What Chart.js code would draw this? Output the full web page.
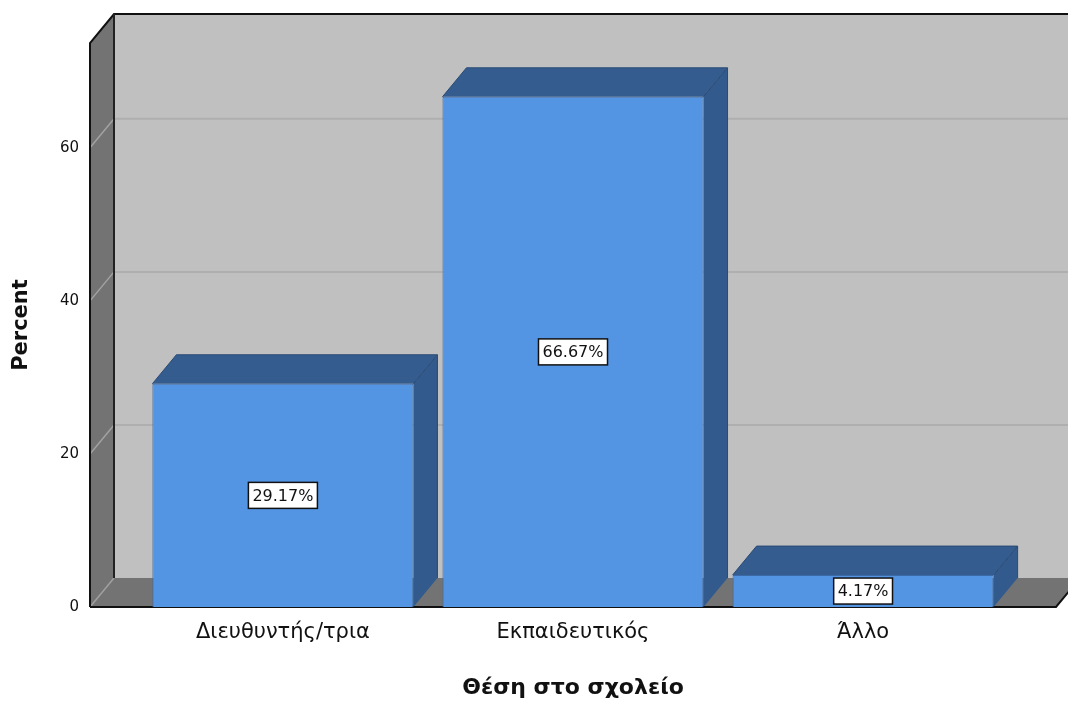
<!DOCTYPE html>
<html>
<head>
<meta charset="utf-8">
<title>Θέση στο σχολείο</title>
<script src="https://cdn.jsdelivr.net/npm/chart.js@4.4.1/dist/chart.umd.min.js"></script>
<style>
  html, body { margin: 0; padding: 0; background: #fff; }
</style>
</head>
<body>
<canvas id="positionChart" width="1068" height="702"></canvas>
<script>
const categories = ['Διευθυντής/τρια', 'Εκπαιδευτικός', 'Άλλο'];
const percents = [29.17, 66.67, 4.17];
const yTicks = [0, 20, 40, 60];

const FONT = '"DejaVu Sans", Verdana, sans-serif';
const TEXT = '#111';
// depth of the box and of the bars (pixels, going back and up)
const DX = 24, DY = -29;

function poly(ctx, pts, fill) {
    ctx.beginPath();
    ctx.moveTo(pts[0][0], pts[0][1]);
    pts.slice(1).forEach(p => ctx.lineTo(p[0], p[1]));
    ctx.closePath();
    ctx.fillStyle = fill;
    ctx.fill();
}

function line(ctx, pts, color, width) {
    ctx.beginPath();
    ctx.moveTo(pts[0][0], pts[0][1]);
    pts.slice(1).forEach(p => ctx.lineTo(p[0], p[1]));
    ctx.strokeStyle = color;
    ctx.lineWidth = width;
    ctx.stroke();
}

// walls, floor and gridlines behind the bars
const box3d = {
    id: 'box3d',
    beforeDatasetsDraw(chart) {
        const { ctx, chartArea: a, scales: { y } } = chart;
        const L = a.left, R = a.right, T = a.top, B = a.bottom;
        ctx.save();
        poly(ctx, [[L + DX, T + DY], [R + DX, T + DY], [R + DX, B + DY], [L + DX, B + DY]], '#c0c0c0');
        yTicks.forEach(v => {
            if (v === 0) return;
            const py = y.getPixelForValue(v);
            line(ctx, [[L + DX, py + DY], [R + DX, py + DY]], '#afafaf', 2);
        });
        poly(ctx, [[L, B], [L, T], [L + DX, T + DY], [L + DX, B + DY]], '#737373');
        yTicks.forEach(v => {
            if (v === 0) return;
            const py = y.getPixelForValue(v);
            line(ctx, [[L, py], [L + DX, py + DY]], '#a2a2a2', 1.5);
        });
        poly(ctx, [[L, B], [R, B], [R + DX, B + DY], [L + DX, B + DY]], '#737373');
        line(ctx, [[L, B], [L + DX, B + DY]], '#a0a0a0', 1.5);
        line(ctx, [[L, B], [L, T], [L + DX, T + DY], [R + DX, T + DY]], '#111', 2);
        line(ctx, [[L + DX, T + DY], [L + DX, B + DY]], '#222', 2);
        line(ctx, [[L, B], [R, B], [R + DX, B + DY]], '#111', 2);
        ctx.restore();
    },
    afterDatasetsDraw(chart) {
        const { ctx } = chart;
        const meta = chart.getDatasetMeta(0);
        ctx.save();
        meta.data.forEach((bar, i) => {
            const { x, y, base, width } = bar.getProps(['x', 'y', 'base', 'width'], true);
            const l = x - width / 2, r = x + width / 2;
            // top and right side of the bar
            poly(ctx, [[l, y], [r, y], [r + DX, y + DY], [l + DX, y + DY]], '#345c8f');
            poly(ctx, [[r, y], [r + DX, y + DY], [r + DX, base + DY], [r, base]], '#335a8c');
            line(ctx, [[l, y], [l + DX, y + DY], [r + DX, y + DY], [r + DX, base + DY]], '#2a4a74', 1);
            line(ctx, [[r, y], [r + DX, y + DY]], '#2a4a74', 1);

            // value label in a white box
            const text = percents[i].toFixed(2) + '%';
            ctx.font = '16px ' + FONT;
            const w = ctx.measureText(text).width + 8;
            const h = 26;
            const cy = (y + base) / 2;
            ctx.fillStyle = '#fff';
            ctx.fillRect(x - w / 2, cy - h / 2, w, h);
            ctx.strokeStyle = '#111';
            ctx.lineWidth = 1.5;
            ctx.strokeRect(x - w / 2, cy - h / 2, w, h);
            ctx.fillStyle = TEXT;
            ctx.textAlign = 'center';
            ctx.textBaseline = 'middle';
            ctx.fillText(text, x, cy + 1);
        });
        ctx.restore();
    }
};

new Chart(document.getElementById('positionChart'), {
    type: 'bar',
    data: {
        datasets: [{
            data: percents.map((v, i) => ({ x: i, y: v })),
            backgroundColor: '#5394e3',
            borderColor: '#3b6aa6',
            borderWidth: 1,
            barPercentage: 0.9,
            categoryPercentage: 1
        }]
    },
    options: {
        responsive: false,
        animation: false,
        layout: { padding: { top: 43, right: 12, left: 0, bottom: 0 } },
        plugins: {
            legend: { display: false },
            tooltip: { enabled: false }
        },
        scales: {
            x: {
                type: 'linear',
                offset: false,
                bounds: 'data',
                min: -0.665,
                max: 2.665,
                afterFit: s => { s.height = 95; },
                afterBuildTicks: s => { s.ticks = categories.map((c, i) => ({ value: i })); },
                ticks: {
                    callback: v => categories[v],
                    autoSkip: false,
                    maxRotation: 0,
                    padding: 13,
                    color: TEXT,
                    font: { family: FONT, size: 21 }
                },
                grid: { display: false, drawTicks: false, offset: false },
                border: { display: false },
                title: {
                    display: true,
                    text: 'Θέση στο σχολείο',
                    color: TEXT,
                    font: { family: FONT, size: 22, weight: 'bold' },
                    padding: { bottom: 1 }
                }
            },
            y: {
                min: 0,
                max: 73.7,
                afterFit: s => { s.width = 90; },
                afterBuildTicks: s => { s.ticks = yTicks.map(v => ({ value: v })); },
                ticks: {
                    padding: 11,
                    color: TEXT,
                    font: { family: FONT, size: 15 }
                },
                grid: { display: false, drawTicks: false },
                border: { display: false },
                title: {
                    display: true,
                    text: 'Percent',
                    color: TEXT,
                    font: { family: FONT, size: 21, weight: 'bold' },
                    padding: { top: 9 }
                }
            }
        }
    },
    plugins: [box3d]
});
</script>
</body>
</html>
